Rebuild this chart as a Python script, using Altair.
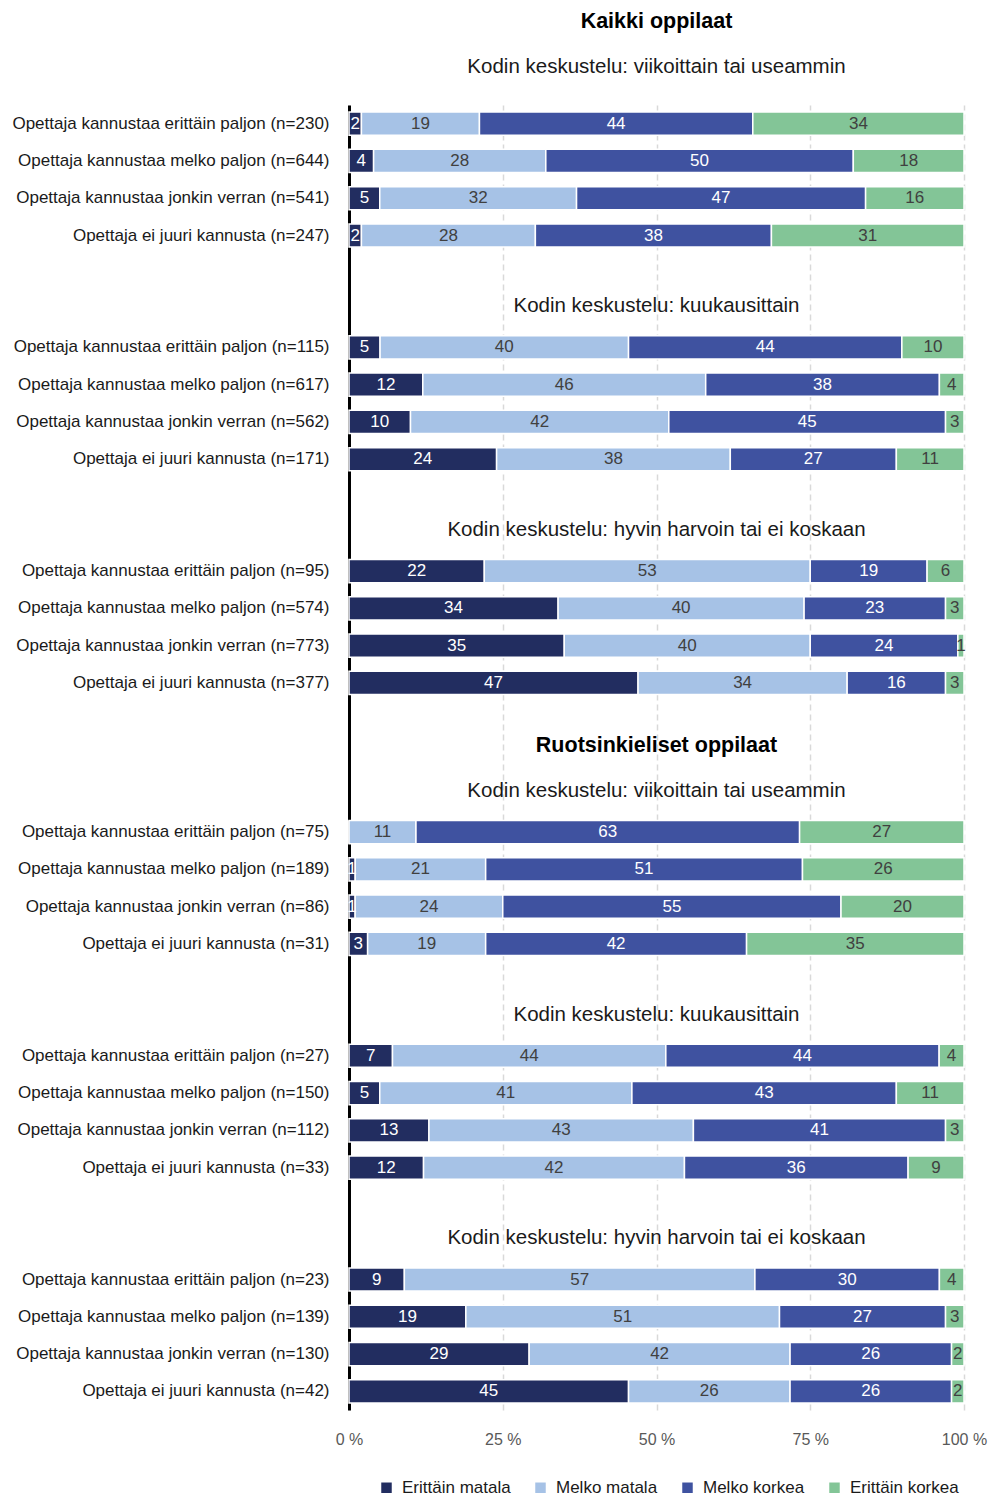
import altair as alt
import pandas as pd

FONT = "Liberation Sans"

categories = ["Erittäin matala", "Melko matala", "Melko korkea", "Erittäin korkea"]
colors = ["#222d60", "#a6c2e6", "#3f52a0", "#83c597"]

row_prefixes = [
    "Opettaja kannustaa erittäin paljon",
    "Opettaja kannustaa melko paljon",
    "Opettaja kannustaa jonkin verran",
    "Opettaja ei juuri kannusta",
]

group_titles = [
    "Kodin keskustelu: viikoittain tai useammin",
    "Kodin keskustelu: kuukausittain",
    "Kodin keskustelu: hyvin harvoin tai ei koskaan",
]
population_titles = ["Kaikki oppilaat", "Ruotsinkieliset oppilaat"]

# n per row: population -> group -> row
n_kaikki = [[230, 644, 541, 247], [115, 617, 562, 171], [95, 574, 773, 377]]
n_ruotsi = [[75, 189, 86, 31], [27, 150, 112, 33], [23, 139, 130, 42]]

# values in row order (kaikki g1..g3, ruotsi g1..g3)
erittain_matala = [2, 4, 5, 2, 5, 12, 10, 24, 22, 34, 35, 47,
                   0, 1, 1, 3, 7, 5, 13, 12, 9, 19, 29, 45]
melko_matala = [19, 28, 32, 28, 40, 46, 42, 38, 53, 40, 40, 34,
                11, 21, 24, 19, 44, 41, 43, 42, 57, 51, 42, 26]
melko_korkea = [44, 50, 47, 38, 44, 38, 45, 27, 19, 23, 24, 16,
                63, 51, 55, 42, 44, 43, 41, 36, 30, 27, 26, 26]
erittain_korkea = [34, 18, 16, 31, 10, 4, 3, 11, 6, 3, 1, 3,
                   27, 26, 20, 35, 4, 11, 3, 9, 4, 3, 2, 2]

series = [erittain_matala, melko_matala, melko_korkea, erittain_korkea]

# ---- build slot order (rows + spacer/header slots) ----
domain = []
headers = []  # (slot, text, kind)
row_labels = []
gap_i = 0
for p, ns in enumerate([n_kaikki, n_ruotsi]):
    for g, nrow in enumerate(ns):
        first = (p == 0 and g == 0)
        if not first:
            domain.append(f"gap{gap_i}"); gap_i += 1
            if g == 0:
                slot = f"gap{gap_i}"; gap_i += 1
                domain.append(slot)
                headers.append((slot, population_titles[p], "title"))
            slot = f"gap{gap_i}"; gap_i += 1
            domain.append(slot)
            headers.append((slot, group_titles[g], "header"))
        for r, n in enumerate(nrow):
            lab = f"{row_prefixes[r]} (n={n})"
            domain.append(lab)
            row_labels.append(lab)

records = []
for i, lab in enumerate(row_labels):
    for c, cat in enumerate(categories):
        records.append({"row": lab, "cat": cat, "order": c, "value": series[c][i],
                        "dark": c in (0, 2)})
df = pd.DataFrame(records)
hdr_df = pd.DataFrame([{"slot": s, "text": t, "kind": k} for s, t, k in headers])

H = 1305
W = 615

y_scale = alt.Scale(domain=domain, paddingInner=0.38, paddingOuter=0.19)

y_enc = alt.Y(
    "row:N",
    sort=domain,
    scale=y_scale,
    axis=alt.Axis(
        title=None,
        labelExpr="indexof(datum.label, 'gap') == 0 ? '' : datum.label",
        domain=True, domainColor="#000000", domainWidth=3,
        ticks=False, labelPadding=20, labelFontSize=17, labelFont=FONT,
        labelColor="#1a1a1a", labelLimit=500, grid=False,
    ),
)

base = alt.Chart(df).transform_joinaggregate(
    total="sum(value)", groupby=["row"]
).transform_window(
    cum="sum(value)", sort=[alt.SortField("order")], groupby=["row"],
    frame=[None, 0]
).transform_calculate(
    start="(datum.cum - datum.value) / datum.total",
    end="datum.cum / datum.total",
    mid="(datum.cum - datum.value / 2) / datum.total",
)

x_scale = alt.Scale(domain=[0, 1], nice=False, zero=True)

bars = base.mark_bar(stroke="white", strokeWidth=1.5).encode(
    x=alt.X("start:Q", scale=x_scale,
            axis=alt.Axis(title=None, values=[0, 0.25, 0.5, 0.75, 1],
                          labelExpr="format(datum.value * 100, 'd') + ' %'",
                          domain=False, ticks=False, grid=True, labelFlush=False,
                          gridColor="#d9d9d9", gridDash=[6, 4], gridWidth=1.5,
                          labelFontSize=16, labelFont=FONT, labelColor="#595959",
                          labelPadding=21)),
    x2="end:Q",
    y=y_enc,
    color=alt.Color("cat:N", sort=categories,
                    scale=alt.Scale(domain=categories, range=colors),
                    legend=alt.Legend(title=None, orient="none", direction="horizontal",
                                      legendX=29, legendY=1374, symbolType="square",
                                      symbolSize=110, symbolStrokeWidth=0,
                                      labelFontSize=17, labelFont=FONT, labelColor="#1a1a1a",
                                      columnPadding=21, labelOffset=7, padding=0)),
)

texts = base.transform_filter("datum.value > 0").mark_text(
    fontSize=17, font=FONT, baseline="middle", align="center"
).encode(
    x=alt.X("mid:Q", scale=x_scale),
    y=alt.Y("row:N", sort=domain, scale=y_scale),
    text=alt.Text("value:Q"),
    color=alt.condition("datum.dark", alt.value("#ffffff"), alt.value("#404040")),
)

hdr = alt.Chart(hdr_df).transform_filter("datum.kind == 'header'").mark_text(
    fontSize=20.5, font=FONT, color="#1a1a1a", dy=-4, baseline="middle"
).encode(
    x=alt.value(W / 2),
    y=alt.Y("slot:N", sort=domain, scale=y_scale),
    text="text:N",
)
ttl = alt.Chart(hdr_df).transform_filter("datum.kind == 'title'").mark_text(
    fontSize=21.5, font=FONT, fontWeight="bold", color="#000000", dy=-12, baseline="middle"
).encode(
    x=alt.value(W / 2),
    y=alt.Y("slot:N", sort=domain, scale=y_scale),
    text="text:N",
)

chart = alt.layer(bars, texts, hdr, ttl).properties(
    width=W, height=H,
    title=alt.TitleParams(
        text=population_titles[0], subtitle=group_titles[0],
        font=FONT, fontSize=21.5, fontWeight="bold", color="#000000",
        subtitleFont=FONT, subtitleFontSize=20.5, subtitleColor="#1a1a1a",
        subtitlePadding=24.5, anchor="middle", frame="group", offset=27.5,
    ),
    padding={"left": 341, "top": 97, "right": 24, "bottom": 86},
    autosize=alt.AutoSizeParams(type="none"),
).configure_view(stroke=None)

chart.save("out.html", embed_options={"renderer": "svg", "actions": False})
